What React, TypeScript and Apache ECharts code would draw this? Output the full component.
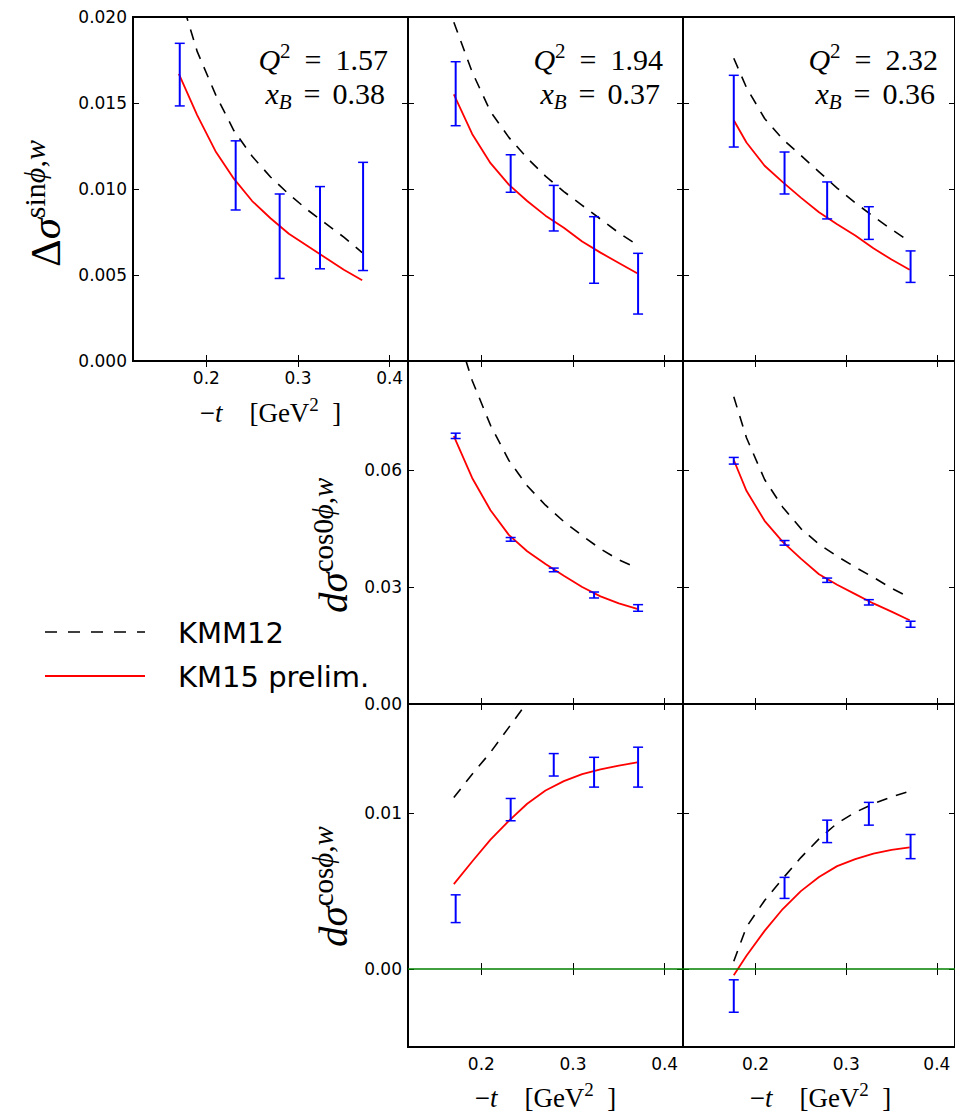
import React, { useEffect, useRef } from "react";
import * as echarts from "echarts";

// ---------------- data ----------------
const X_TICKS = [0.2, 0.3, 0.4];
const SIN_Y_TICKS = [0, 0.005, 0.01, 0.015, 0.02];
const COS0_Y_TICKS = [0, 0.03, 0.06];
const COS_Y_TICKS = [0, 0.01];

const Q2_LABELS = ["1.57", "1.94", "2.32"];
const XB_LABELS = ["0.38", "0.37", "0.36"];

// measured -t of the data points in each kinematic bin
const T_BIN1 = [0.171, 0.232, 0.28, 0.324, 0.371];
const T_BIN2 = [0.172, 0.232, 0.279, 0.323, 0.371];
const T_BIN3 = [0.176, 0.232, 0.279, 0.325, 0.371];

// -t at which the model curves are given
const T_MODEL_12 = [0.17, 0.19, 0.21, 0.23, 0.25, 0.27, 0.29, 0.31, 0.33, 0.35, 0.37];
const T_MODEL_3 = [0.176, 0.19, 0.21, 0.23, 0.25, 0.27, 0.29, 0.31, 0.33, 0.35, 0.37];

// Δσ^{sinφ,w}
const SIN1_LOW = [0.01483, 0.00878, 0.0048, 0.00536, 0.00526];
const SIN1_HIGH = [0.01847, 0.0128, 0.00971, 0.01014, 0.01155];
const SIN2_LOW = [0.01368, 0.00981, 0.00756, 0.00452, 0.00273];
const SIN2_HIGH = [0.0174, 0.01199, 0.01021, 0.00839, 0.00626];
const SIN3_LOW = [0.01244, 0.00971, 0.00826, 0.00707, 0.00457];
const SIN3_HIGH = [0.01661, 0.01215, 0.01041, 0.00897, 0.0064];

const SIN1_KM15 = [0.0167, 0.0143, 0.0122, 0.0106, 0.0093, 0.0083, 0.0074, 0.0067, 0.006, 0.0053, 0.0047];
const SIN1_KMM12 = [0.0215, 0.018, 0.0155, 0.0134, 0.0119, 0.0107, 0.0097, 0.0088, 0.008, 0.0072, 0.0063];
const SIN2_KM15 = [0.0155, 0.0132, 0.0115, 0.01025, 0.0093, 0.00845, 0.00775, 0.00695, 0.0063, 0.0057, 0.0051];
const SIN2_KMM12 = [0.0197, 0.0168, 0.0145, 0.013, 0.0118, 0.01075, 0.00985, 0.00905, 0.00825, 0.00745, 0.00675];
const SIN3_KM15 = [0.014, 0.0127, 0.01135, 0.0104, 0.0095, 0.00865, 0.00795, 0.0073, 0.00655, 0.0059, 0.0053];
const SIN3_KMM12 = [0.0176, 0.0159, 0.0141, 0.0129, 0.01195, 0.011, 0.01005, 0.0092, 0.0084, 0.00765, 0.00695];

// dσ^{cos0φ,w}
const COS0_2_LOW = [0.06811, 0.04177, 0.03393, 0.0272, 0.02379];
const COS0_2_HIGH = [0.06948, 0.04271, 0.03487, 0.02873, 0.02549];
const COS0_3_LOW = [0.06155, 0.04075, 0.0312, 0.0254, 0.01969];
const COS0_3_HIGH = [0.06326, 0.04194, 0.03231, 0.02677, 0.02123];

const COS0_2_KM15 = [0.0687, 0.058, 0.0497, 0.0434, 0.0392, 0.0359, 0.0329, 0.03, 0.0276, 0.0258, 0.0244];
const COS0_2_KMM12 = [0.098, 0.083, 0.0715, 0.0625, 0.056, 0.051, 0.0468, 0.0432, 0.0398, 0.037, 0.0349];
const COS0_3_KM15 = [0.0626, 0.0547, 0.047, 0.0416, 0.0373, 0.0333, 0.0306, 0.0282, 0.0258, 0.0237, 0.0215];
const COS0_3_KMM12 = [0.0788, 0.0683, 0.0576, 0.0505, 0.045, 0.041, 0.0379, 0.0351, 0.0325, 0.0297, 0.0273];

// dσ^{cosφ,w}
const COS_2_LOW = [0.00298, 0.00951, 0.01238, 0.01167, 0.01167];
const COS_2_HIGH = [0.00476, 0.01094, 0.01382, 0.01358, 0.01423];
const COS_3_LOW = [-0.00277, 0.00453, 0.00811, 0.00923, 0.00708];
const COS_3_HIGH = [-0.00069, 0.00588, 0.00955, 0.01069, 0.00863];

const COS_2_KM15 = [0.00545, 0.0069, 0.0083, 0.0095, 0.0106, 0.01145, 0.01205, 0.0125, 0.0128, 0.01305, 0.01325];
const COS_2_KMM12 = [0.011, 0.0125, 0.0139, 0.0155, 0.0171, 0.0186, 0.02, 0.0213, 0.0225, 0.0236, 0.0246];
const COS_3_KM15 = [-0.0004, 0.00085, 0.00245, 0.00385, 0.005, 0.0059, 0.0066, 0.00705, 0.0074, 0.00765, 0.0078];
const COS_3_KMM12 = [0.0005, 0.0027, 0.0044, 0.0058, 0.00715, 0.00835, 0.00935, 0.01005, 0.0106, 0.01105, 0.0114];

const LEGEND_NAMES = ["KMM12", "KM15 prelim."];

// ---------------- layout / style ----------------
const SANS = "DejaVu Sans";
const SERIF = "Liberation Serif";
const X_MIN = 0.12;
const X_MAX = 0.42;
const COL_LEFT = [133, 408, 683];
const PANEL_W = 275;
const ROW_TOP = [17, 361, 704];
const ROW_H = [344, 343, 343];

type Panel = {
  row: number;
  col: number;
  tBin: number[];
  low: number[];
  high: number[];
  tModel: number[];
  km15: number[];
  kmm12: number[];
  yMin: number;
  yMax: number;
  yTicks: number[];
  yDigits: number;
  yLabels: boolean;
  xLabels: boolean;
  zeroLine: boolean;
};

const SIN_R = { yMin: 0, yMax: 0.02, yTicks: SIN_Y_TICKS, yDigits: 3 };
const COS0_R = { yMin: 0, yMax: 0.088, yTicks: COS0_Y_TICKS, yDigits: 2 };
const COS_R = { yMin: -0.005, yMax: 0.017, yTicks: COS_Y_TICKS, yDigits: 2 };

const PANELS: Panel[] = [
  { row: 0, col: 0, tBin: T_BIN1, low: SIN1_LOW, high: SIN1_HIGH, tModel: T_MODEL_12, km15: SIN1_KM15, kmm12: SIN1_KMM12, ...SIN_R, yLabels: true, xLabels: true, zeroLine: false },
  { row: 0, col: 1, tBin: T_BIN2, low: SIN2_LOW, high: SIN2_HIGH, tModel: T_MODEL_12, km15: SIN2_KM15, kmm12: SIN2_KMM12, ...SIN_R, yLabels: false, xLabels: false, zeroLine: false },
  { row: 0, col: 2, tBin: T_BIN3, low: SIN3_LOW, high: SIN3_HIGH, tModel: T_MODEL_3, km15: SIN3_KM15, kmm12: SIN3_KMM12, ...SIN_R, yLabels: false, xLabels: false, zeroLine: false },
  { row: 1, col: 1, tBin: T_BIN2, low: COS0_2_LOW, high: COS0_2_HIGH, tModel: T_MODEL_12, km15: COS0_2_KM15, kmm12: COS0_2_KMM12, ...COS0_R, yLabels: true, xLabels: false, zeroLine: false },
  { row: 1, col: 2, tBin: T_BIN3, low: COS0_3_LOW, high: COS0_3_HIGH, tModel: T_MODEL_3, km15: COS0_3_KM15, kmm12: COS0_3_KMM12, ...COS0_R, yLabels: false, xLabels: false, zeroLine: false },
  { row: 2, col: 1, tBin: T_BIN2, low: COS_2_LOW, high: COS_2_HIGH, tModel: T_MODEL_12, km15: COS_2_KM15, kmm12: COS_2_KMM12, ...COS_R, yLabels: true, xLabels: true, zeroLine: true },
  { row: 2, col: 2, tBin: T_BIN3, low: COS_3_LOW, high: COS_3_HIGH, tModel: T_MODEL_3, km15: COS_3_KM15, kmm12: COS_3_KMM12, ...COS_R, yLabels: false, xLabels: true, zeroLine: true },
];

const zip2 = (a: number[], b: number[]) => a.map((v, i) => [v, b[i]]);
const zip3 = (a: number[], b: number[], c: number[]) => a.map((v, i) => [v, b[i], c[i]]);

function mathRich(fs: number, lh: number, eqPad = 13) {
  const sfs = Math.round(fs * 0.7);
  return {
    n: { fontFamily: SERIF, fontSize: fs, lineHeight: lh, fill: "#000" },
    i: { fontFamily: SERIF, fontSize: fs, lineHeight: lh, fill: "#000", fontStyle: "italic" },
    eq: { fontFamily: SERIF, fontSize: fs, lineHeight: lh, fill: "#000", padding: [0, eqPad, 0, eqPad] },
    s: { fontFamily: SERIF, fontSize: sfs, lineHeight: Math.round(lh * 0.56), fill: "#000", verticalAlign: "top" },
    si: { fontFamily: SERIF, fontSize: sfs, lineHeight: Math.round(lh * 0.56), fill: "#000", fontStyle: "italic", verticalAlign: "top" },
    b: { fontFamily: SERIF, fontSize: sfs, lineHeight: Math.round(lh * 0.3), fill: "#000", fontStyle: "italic", verticalAlign: "bottom" },
  };
}

function buildOption() {
  const grid: any[] = [];
  const xAxis: any[] = [];
  const yAxis: any[] = [];
  const series: any[] = [];

  PANELS.forEach((p, gi) => {
    grid.push({
      left: COL_LEFT[p.col],
      top: ROW_TOP[p.row],
      width: PANEL_W,
      height: ROW_H[p.row],
      show: true,
      borderColor: "#000",
      borderWidth: 2,
      backgroundColor: "transparent",
      containLabel: false,
    });
    const tick = { show: true, inside: true, length: 6, lineStyle: { color: "#000", width: 1 } };
    const labelStyle = { color: "#000", fontFamily: SANS, fontSize: 17 };
    xAxis.push({
      type: "value", gridIndex: gi, position: "bottom", min: X_MIN, max: X_MAX,
      axisLine: { show: false }, splitLine: { show: false },
      axisTick: { ...tick, customValues: X_TICKS },
      axisLabel: { show: p.xLabels, ...labelStyle, margin: 8, customValues: X_TICKS, formatter: (v: number) => v.toFixed(1) },
    });
    xAxis.push({
      type: "value", gridIndex: gi, position: "top", min: X_MIN, max: X_MAX,
      axisLine: { show: false }, splitLine: { show: false },
      axisTick: { ...tick, customValues: X_TICKS },
      axisLabel: { show: false },
    });
    yAxis.push({
      type: "value", gridIndex: gi, position: "left", min: p.yMin, max: p.yMax,
      axisLine: { show: false }, splitLine: { show: false },
      axisTick: { ...tick, customValues: p.yTicks },
      axisLabel: { show: p.yLabels, ...labelStyle, margin: 6, customValues: p.yTicks, formatter: (v: number) => v.toFixed(p.yDigits) },
    });
    yAxis.push({
      type: "value", gridIndex: gi, position: "right", min: p.yMin, max: p.yMax,
      axisLine: { show: false }, splitLine: { show: false },
      axisTick: { ...tick, customValues: p.yTicks },
      axisLabel: { show: false },
    });
    const xi = gi * 2;
    const yi = gi * 2;
    series.push({
      type: "line", name: LEGEND_NAMES[0], xAxisIndex: xi, yAxisIndex: yi,
      data: zip2(p.tModel, p.kmm12), showSymbol: false, symbol: "none", clip: true,
      lineStyle: { color: "#000", width: 1.6, type: [11, 9] }, z: 3,
    });
    series.push({
      type: "line", name: LEGEND_NAMES[1], xAxisIndex: xi, yAxisIndex: yi,
      data: zip2(p.tModel, p.km15), showSymbol: false, symbol: "none", clip: true,
      lineStyle: { color: "#ff0000", width: 1.8 }, z: 4,
      markLine: p.zeroLine
        ? { silent: true, symbol: "none", animation: false, label: { show: false },
            lineStyle: { color: "#008000", width: 1.5, type: "solid" }, data: [{ yAxis: 0 }] }
        : undefined,
    });
    series.push({
      type: "custom", name: "data", xAxisIndex: xi, yAxisIndex: yi,
      data: zip3(p.tBin, p.low, p.high),
      encode: { x: 0, y: [1, 2] }, z: 5,
      renderItem: (params: any, api: any) => {
        const x = api.value(0);
        const lo = api.coord([x, api.value(1)]);
        const hi = api.coord([x, api.value(2)]);
        const w = 5;
        const st = { stroke: "#0000ff", lineWidth: 2 };
        return {
          type: "group",
          children: [
            { type: "line", shape: { x1: lo[0], y1: lo[1], x2: hi[0], y2: hi[1] }, style: st },
            { type: "line", shape: { x1: lo[0] - w, y1: lo[1], x2: lo[0] + w, y2: lo[1] }, style: { ...st, lineWidth: 1.5 } },
            { type: "line", shape: { x1: hi[0] - w, y1: hi[1], x2: hi[0] + w, y2: hi[1] }, style: { ...st, lineWidth: 1.5 } },
          ],
        };
      },
    });
  });

  const graphic: any[] = [];
  for (let c = 0; c < 3; c++) {
    const right = COL_LEFT[c] + PANEL_W - 20;
    graphic.push({
      type: "text", x: right, y: 59, z: 10,
      style: { text: `{i|Q}{s|2}{eq|=}{n|${Q2_LABELS[c]}}`, align: "right", verticalAlign: "middle", rich: mathRich(30, 38, 14) },
    });
    graphic.push({
      type: "text", x: right - 3, y: 93, z: 10,
      style: { text: `{i|x}{b|B}{eq|=}{n|${XB_LABELS[c]}}`, align: "right", verticalAlign: "middle", rich: mathRich(30, 38, 12) },
    });
  }
  const xt = "{n|\u2212}{i|t}{n|\u2003[GeV}{s|2}{n|\u2002]}";
  [
    [COL_LEFT[0] + PANEL_W / 2, 413],
    [COL_LEFT[1] + PANEL_W / 2, 1098],
    [COL_LEFT[2] + PANEL_W / 2, 1098],
  ].forEach(([x, y]) => {
    graphic.push({ type: "text", x, y, z: 10, style: { text: xt, align: "center", verticalAlign: "middle", rich: mathRich(27, 36) } });
  });
  const ylab = (x: number, y: number, fs: number, text: string) => ({
    type: "text", x, y, rotation: Math.PI / 2, z: 10,
    style: { text, align: "left", verticalAlign: "middle", rich: mathRich(fs, Math.round(fs * 1.2)) },
  });
  graphic.push(ylab(45, 267, 43, "{n|\u0394}{i|\u03c3}{s|sin}{si|\u03d5}{s|,}{si|w}"));
  graphic.push(ylab(333, 613, 41, "{i|d\u03c3}{s|cos0}{si|\u03d5}{s|,}{si|w}"));
  graphic.push(ylab(333, 947, 41, "{i|d\u03c3}{s|cos}{si|\u03d5}{s|,}{si|w}"));

  graphic.push({ type: "line", shape: { x1: 45, y1: 632, x2: 145, y2: 632 }, style: { stroke: "#000", lineWidth: 1.6, lineDash: [12, 11] } });
  graphic.push({ type: "line", shape: { x1: 45, y1: 676, x2: 145, y2: 676 }, style: { stroke: "#ff0000", lineWidth: 1.8 } });
  graphic.push({ type: "text", x: 178, y: 633, style: { text: LEGEND_NAMES[0], fontFamily: SANS, fontSize: 29, fill: "#000", align: "left", verticalAlign: "middle" } });
  graphic.push({ type: "text", x: 178, y: 677, style: { text: LEGEND_NAMES[1], fontFamily: SANS, fontSize: 29, fill: "#000", align: "left", verticalAlign: "middle" } });

  return {
    animation: false,
    backgroundColor: "#fff",
    grid,
    xAxis,
    yAxis,
    series,
    graphic,
  };
}

export default function App() {
  const ref = useRef<HTMLDivElement>(null);
  useEffect(() => {
    if (!ref.current) return;
    const chart = echarts.init(ref.current, undefined, { renderer: "svg" });
    chart.setOption(buildOption() as any);
    return () => chart.dispose();
  }, []);
  return (
    <div
      ref={ref}
      style={{ position: "absolute", left: 0, top: 0, width: 955, height: 1119, background: "#fff" }}
    />
  );
}
